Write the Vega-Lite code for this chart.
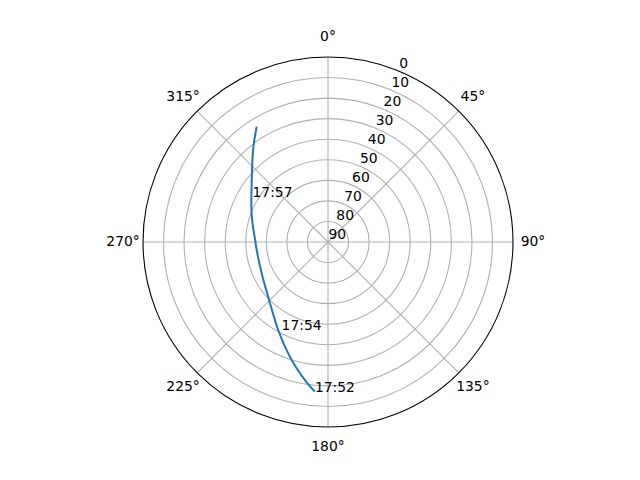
{
  "$schema": "https://vega.github.io/schema/vega-lite/v6.json",
  "width": 370,
  "height": 370,
  "autosize": {"type": "none"},
  "padding": {"left": 143, "top": 57, "right": 127, "bottom": 53},
  "background": "white",
  "config": {"view": {"stroke": null}, "font": "DejaVu Sans"},
  "datasets": {
    "rings": [
      {"el": 10}, {"el": 20}, {"el": 30}, {"el": 40},
      {"el": 50}, {"el": 60}, {"el": 70}, {"el": 80}
    ],
    "outer": [{"el": 0}],
    "spokes": [
      {"az": 0}, {"az": 45}, {"az": 90}, {"az": 135},
      {"az": 180}, {"az": 225}, {"az": 270}, {"az": 315}
    ],
    "azLabels": [
      {"az": 0, "label": "0°"}, {"az": 45, "label": "45°"},
      {"az": 90, "label": "90°"}, {"az": 135, "label": "135°"},
      {"az": 180, "label": "180°"}, {"az": 225, "label": "225°"},
      {"az": 270, "label": "270°"}, {"az": 315, "label": "315°"}
    ],
    "elLabels": [
      {"el": 0, "label": "0"}, {"el": 10, "label": "10"},
      {"el": 20, "label": "20"}, {"el": 30, "label": "30"},
      {"el": 40, "label": "40"}, {"el": 50, "label": "50"},
      {"el": 60, "label": "60"}, {"el": 70, "label": "70"},
      {"el": 80, "label": "80"}, {"el": 90, "label": "90"}
    ],
    "pass": [
      {"n": 1, "az": 185.0, "el": 16.9},
      {"n": 2, "az": 189.5, "el": 21.9},
      {"n": 3, "az": 197.1, "el": 29.9},
      {"n": 4, "az": 209.5, "el": 40.8},
      {"n": 5, "az": 225.5, "el": 49.8},
      {"n": 6, "az": 244.7, "el": 54.3},
      {"n": 7, "az": 263.6, "el": 55.1},
      {"n": 8, "az": 270.0, "el": 54.7},
      {"n": 9, "az": 289.5, "el": 50.6},
      {"n": 10, "az": 308.3, "el": 42.7},
      {"n": 11, "az": 321.4, "el": 31.7},
      {"n": 12, "az": 328.3, "el": 24.0}
    ],
    "times": [
      {"az": 185.0, "el": 16.9, "label": "17:52"},
      {"az": 207.8, "el": 41.6, "label": "17:54"},
      {"az": 300.6, "el": 47.3, "label": "17:57"}
    ]
  },
  "layer": [
    {
      "data": {"name": "rings"},
      "mark": {"type": "arc", "filled": false, "stroke": "#b0b0b0", "strokeWidth": 1.1},
      "encoding": {
        "theta": {"value": 0},
        "theta2": {"value": 6.2832},
        "radius": {"field": "el", "type": "quantitative", "stack": null, "scale": {"type": "linear", "domain": [90, 0], "range": [0, 185]}}
      }
    },
    {
      "data": {"name": "spokes"},
      "transform": [
        {"calculate": "0", "as": "ox"},
        {"calculate": "90 * sin(datum.az * PI / 180)", "as": "sx"},
        {"calculate": "90 * cos(datum.az * PI / 180)", "as": "sy"}
      ],
      "mark": {"type": "rule", "color": "#b0b0b0", "strokeWidth": 1.1},
      "encoding": {
        "x": {"field": "ox", "type": "quantitative", "scale": {"domain": [-90, 90], "nice": false}, "axis": null},
        "y": {"field": "ox", "type": "quantitative", "scale": {"domain": [-90, 90], "nice": false}, "axis": null},
        "x2": {"field": "sx"},
        "y2": {"field": "sy"}
      }
    },
    {
      "data": {"name": "outer"},
      "mark": {"type": "arc", "filled": false, "stroke": "black", "strokeWidth": 1.1},
      "encoding": {
        "theta": {"value": 0},
        "theta2": {"value": 6.2832},
        "radius": {"field": "el", "type": "quantitative", "stack": null, "scale": {"type": "linear", "domain": [90, 0], "range": [0, 185]}}
      }
    },
    {
      "data": {"name": "pass"},
      "transform": [
        {"calculate": "(90 - datum.el) * sin(datum.az * PI / 180)", "as": "px"},
        {"calculate": "(90 - datum.el) * cos(datum.az * PI / 180)", "as": "py"}
      ],
      "mark": {"type": "line", "color": "#1f77b4", "strokeWidth": 2, "interpolate": "catmull-rom"},
      "encoding": {
        "x": {"field": "px", "type": "quantitative", "scale": {"domain": [-90, 90], "nice": false}, "axis": null},
        "y": {"field": "py", "type": "quantitative", "scale": {"domain": [-90, 90], "nice": false}, "axis": null},
        "order": {"field": "n"}
      }
    },
    {
      "data": {"name": "times"},
      "transform": [
        {"calculate": "(90 - datum.el) * sin(datum.az * PI / 180)", "as": "px"},
        {"calculate": "(90 - datum.el) * cos(datum.az * PI / 180)", "as": "py"}
      ],
      "mark": {"type": "text", "align": "left", "baseline": "alphabetic", "fontSize": 13.9, "color": "black"},
      "encoding": {
        "x": {"field": "px", "type": "quantitative", "scale": {"domain": [-90, 90], "nice": false}, "axis": null},
        "y": {"field": "py", "type": "quantitative", "scale": {"domain": [-90, 90], "nice": false}, "axis": null},
        "text": {"field": "label"}
      }
    },
    {
      "data": {"name": "elLabels"},
      "transform": [
        {"calculate": "(90 - datum.el) * sin(22.5 * PI / 180)", "as": "px"},
        {"calculate": "(90 - datum.el) * cos(22.5 * PI / 180)", "as": "py"}
      ],
      "mark": {"type": "text", "align": "left", "baseline": "bottom", "dx": 0.5, "fontSize": 13.9, "color": "black"},
      "encoding": {
        "x": {"field": "px", "type": "quantitative", "scale": {"domain": [-90, 90], "nice": false}, "axis": null},
        "y": {"field": "py", "type": "quantitative", "scale": {"domain": [-90, 90], "nice": false}, "axis": null},
        "text": {"field": "label"}
      }
    },
    {
      "data": {"name": "azLabels"},
      "transform": [
        {"calculate": "99.7 * sin(datum.az * PI / 180)", "as": "px"},
        {"calculate": "99.7 * cos(datum.az * PI / 180)", "as": "py"}
      ],
      "mark": {"type": "text", "align": "center", "baseline": "middle", "fontSize": 13.9, "color": "black"},
      "encoding": {
        "x": {"field": "px", "type": "quantitative", "scale": {"domain": [-90, 90], "nice": false}, "axis": null},
        "y": {"field": "py", "type": "quantitative", "scale": {"domain": [-90, 90], "nice": false}, "axis": null},
        "text": {"field": "label"}
      }
    }
  ]
}
